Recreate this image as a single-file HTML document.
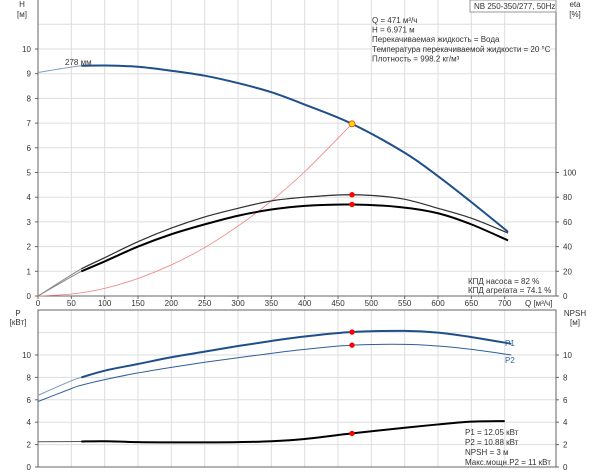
<!DOCTYPE html>
<html><head><meta charset="utf-8"><style>
body{margin:0;background:#fff;}
svg{display:block;font-family:"Liberation Sans",sans-serif;}
</style></head><body>
<svg id="c" width="600" height="474" xmlns="http://www.w3.org/2000/svg"></svg>
<script>
const qTicks=[0,50,100,150,200,250,300,350,400,450,500,550,600,650,700];
const hTicks=[0,1,2,3,4,5,6,7,8,9,10];
const etaTicks=[0,20,40,60,80,100];
const pTicks=[0,2,4,6,8,10];
const npshTicks=[0,2,4,6,8,10];
const hQ=[0,65,100,150,200,250,300,350,400,471,550,600,650,705];
const hV=[9.05,9.32,9.33,9.28,9.12,8.92,8.62,8.25,7.75,6.97,5.8,4.85,3.8,2.6];
const sysQ=[0,50,100,150,200,250,300,350,400,471];
const sysV=[0,0.08,0.31,0.71,1.26,1.96,2.83,3.85,5.03,6.97];
const etaQ=[0,65,100,150,200,250,300,350,400,471,543,600,650,705];
const etaPump=[0,22,31,44,55,64,71,77,80,82,79,71,63,51];
const etaAgg=[0,20,28,40,50,58,65,70,73,74.1,72,67,58,45];
const pQ=[0,50,65,100,150,200,250,300,350,400,471,550,600,650,710];
const p1V=[6.4,7.7,8.0,8.6,9.2,9.8,10.3,10.8,11.25,11.65,12.05,12.15,12.0,11.6,11.0];
const p2V=[5.85,7.0,7.3,7.8,8.4,8.9,9.35,9.75,10.15,10.5,10.88,10.95,10.8,10.5,10.0];
const nQ=[0,65,100,150,200,250,300,350,400,471,550,600,650,700];
const nV=[2.25,2.28,2.3,2.22,2.2,2.2,2.22,2.3,2.5,3.0,3.5,3.8,4.05,4.1];
const dutyQ=471, dutyH=6.971, dutyEta=82, dutyEtaAgg=74.1, dutyP1=12.05, dutyP2=10.88, dutyN=3;

const svg=document.getElementById('c');const NS='http://www.w3.org/2000/svg';
const X=q=>38+q*0.6667;
const YH=h=>296-h*24.7;
const YE=e=>296-e*1.235;
const YP=p=>467-p*11.2;
function el(t,a,name,par){const e=document.createElementNS(NS,t);for(const k in a)e.setAttribute(k,a[k]);


(par||svg).appendChild(e);return e;}
function txt(x,y,s,name,opt={}){const e=el('text',{x:x,y:y,'font-size':opt.fs||8,fill:opt.fill||'#333','text-anchor':opt.a||'start','font-weight':opt.fw||'normal'},name);e.textContent=s;return e;}
for(const q of qTicks){if(q===0)continue;el('line',{x1:X(q),x2:X(q),y1:0,y2:296,stroke:'#ddd'},'grid-v-top');el('line',{x1:X(q),x2:X(q),y1:310,y2:467,stroke:'#ddd'},'grid-v-bottom');}
for(let h=1;h<=11;h++)el('line',{x1:38,x2:556,y1:YH(h),y2:YH(h),stroke:'#ddd'},'grid-h-top');
for(let p=2;p<=12;p+=2)el('line',{x1:38,x2:556,y1:YP(p),y2:YP(p),stroke:'#ddd'},'grid-h-bottom');
el('line',{x1:38,x2:38,y1:0,y2:296,stroke:'#666'},'h-axis');
el('line',{x1:556,x2:556,y1:0,y2:296,stroke:'#666'},'eta-axis');
el('line',{x1:38,x2:556,y1:296,y2:296,stroke:'#666'},'q-axis');
el('rect',{x:38,y:310,width:518,height:157,fill:'none',stroke:'#666'},'bottom-plot-frame');
for(const q of qTicks){el('line',{x1:X(q),x2:X(q),y1:296,y2:299,stroke:'#666'},'q-tick');txt(X(q),306,String(q),'q-tick-label',{a:'middle'});}
txt(525,306,'Q [м³/ч]','q-axis-title');
for(const h of hTicks){el('line',{x1:35,x2:38,y1:YH(h),y2:YH(h),stroke:'#666'},'h-tick');txt(31,YH(h)+3,String(h),'h-tick-label',{a:'end'});}
for(const e of etaTicks){el('line',{x1:556,x2:559,y1:YE(e),y2:YE(e),stroke:'#666'},'eta-tick');txt(563,YE(e)+3,String(e),'eta-tick-label');}
for(const p of pTicks){el('line',{x1:35,x2:38,y1:YP(p),y2:YP(p),stroke:'#666'},'p-tick');txt(31,YP(p)+3,String(p),'p-tick-label',{a:'end'});}
for(const n of npshTicks){el('line',{x1:556,x2:559,y1:YP(n),y2:YP(n),stroke:'#666'},'npsh-tick');txt(563,YP(n)+3,String(n),'npsh-tick-label');}
txt(22,7,'H','h-axis-title',{a:'middle'});txt(22,17,'[м]','h-axis-unit',{a:'middle'});
txt(575,7,'eta','eta-axis-title',{a:'middle'});txt(575,17,'[%]','eta-axis-unit',{a:'middle'});
txt(18,316,'P','p-axis-title',{a:'middle'});txt(18,325,'[кВт]','p-axis-unit',{a:'middle'});
txt(575,316,'NPSH','npsh-axis-title',{a:'middle'});txt(575,325,'[м]','npsh-axis-unit',{a:'middle'});
function path(qs,vs,Y,name,st,w,from){
const pts=[];qs.forEach((q,i)=>{if(from===undefined||q>=from)pts.push([X(q),Y(vs[i])]);});
let d='M'+pts[0][0]+','+pts[0][1];
for(let i=0;i<pts.length-1;i++){const p0=pts[Math.max(0,i-1)],p1=pts[i],p2=pts[i+1],p3=pts[Math.min(pts.length-1,i+2)];
d+='C'+(p1[0]+(p2[0]-p0[0])/6)+','+(p1[1]+(p2[1]-p0[1])/6)+' '+(p2[0]-(p3[0]-p1[0])/6)+','+(p2[1]-(p3[1]-p1[1])/6)+' '+p2[0]+','+p2[1];}
return el('path',{d:d,fill:'none',stroke:st,'stroke-width':w},name);}
path(sysQ,sysV,YH,'system-curve','#f08080',0.8);
path(etaQ,etaPump,YE,'eta-pump-curve-thin','#888',1);
path(etaQ,etaAgg,YE,'eta-aggregate-curve-thin','#888',1);
path(etaQ,etaPump,YE,'eta-pump-curve','#333',1.2,65);
path(etaQ,etaAgg,YE,'eta-aggregate-curve','#000',2,65);
path(hQ,hV,YH,'head-curve-thin','#7f9cc0',1);
path(hQ,hV,YH,'head-curve','#1f4f8a',2,65);
path(pQ,p1V,YP,'p1-curve-thin','#7f9cc0',1);
path(pQ,p1V,YP,'p1-curve','#1f4f8a',2,65);
path(pQ,p2V,YP,'p2-curve','#2f5f9a',1);
path(nQ,nV,YP,'npsh-curve-thin','#555',1);
path(nQ,nV,YP,'npsh-curve','#000',2,65);
el('circle',{cx:X(dutyQ),cy:YH(dutyH),r:3,fill:'#ffd700',stroke:'#e05020','stroke-width':0.8},'duty-point-head');
for(const [v,Y,n] of [[dutyEta,YE,'duty-point-eta-pump'],[dutyEtaAgg,YE,'duty-point-eta-aggregate'],[dutyP1,YP,'duty-point-p1'],[dutyP2,YP,'duty-point-p2'],[dutyN,YP,'duty-point-npsh']])
 el('circle',{cx:X(dutyQ),cy:Y(v),r:2.7,fill:'#f00'},n);
txt(65,65,'278 мм','impeller-label');
txt(505,346,'P1','p1-label',{fill:'#2f5f9a'});txt(505,363,'P2','p2-label',{fill:'#2f5f9a'});
el('rect',{x:470,y:0,width:86,height:12,fill:'#fff',stroke:'#999'},'title-box');
txt(474,9,'NB 250-350/277, 50Hz','chart-title');
const info=['Q = 471 м³/ч','H = 6.971 м','Перекачиваемая жидкость = Вода','Температура перекачиваемой жидкости = 20 °C','Плотность = 998.2 кг/м³'];
info.forEach((s,i)=>txt(372,23+i*9.6,s,'info-line'));
txt(468,284,'КПД насоса = 82 %','eta-pump-label');txt(468,293,'КПД агрегата = 74.1 %','eta-aggregate-label');
['P1 = 12.05 кВт','P2 = 10.88 кВт','NPSH = 3 м','Макс.мощн.P2 = 11 кВт'].forEach((s,i)=>txt(465,435+i*10,s,'power-info-line'));
</script>
</body></html>
